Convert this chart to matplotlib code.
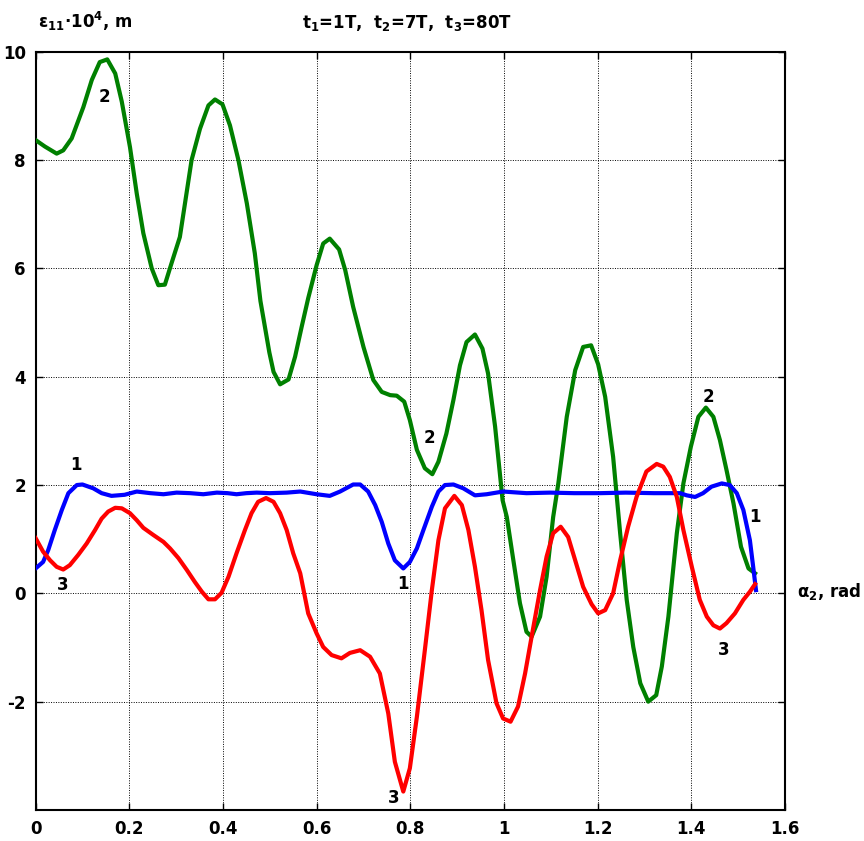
import matplotlib
matplotlib.use("Agg")
import matplotlib.pyplot as plt

plt.rcParams['font.family'] = ['DejaVu Sans']
plt.rcParams['font.weight'] = 'bold'
plt.rcParams['mathtext.fontset'] = 'custom'
plt.rcParams['mathtext.rm'] = 'DejaVu Sans:bold'
plt.rcParams['mathtext.it'] = 'DejaVu Sans:bold'
plt.rcParams['mathtext.bf'] = 'DejaVu Sans:bold'

# Curve 1 (blue)
x1 = [0.000, 0.016, 0.027, 0.041, 0.056, 0.070, 0.088, 0.100, 0.123, 0.141, 0.162,
      0.190, 0.216, 0.245, 0.273, 0.301, 0.330, 0.358, 0.387, 0.410, 0.429, 0.450,
      0.472, 0.500, 0.536, 0.565, 0.600, 0.628, 0.650, 0.678, 0.693, 0.710, 0.725,
      0.739, 0.753, 0.767, 0.785, 0.799, 0.814, 0.828, 0.846, 0.860, 0.874, 0.892,
      0.913, 0.938, 0.963, 0.998, 1.048, 1.098, 1.150, 1.205, 1.260, 1.320, 1.376,
      1.390, 1.408, 1.425, 1.443, 1.465, 1.482, 1.497, 1.511, 1.525, 1.532, 1.538]
y1 = [0.46, 0.58, 0.80, 1.17, 1.54, 1.85, 2.00, 2.01, 1.94, 1.85, 1.80,
      1.82, 1.88, 1.85, 1.83, 1.86, 1.85, 1.83, 1.86, 1.85, 1.83, 1.85,
      1.86, 1.85, 1.86, 1.88, 1.83, 1.80, 1.88, 2.01, 2.01, 1.88, 1.63,
      1.32, 0.92, 0.61, 0.46, 0.58, 0.83, 1.17, 1.60, 1.88, 2.00, 2.01,
      1.94, 1.81, 1.83, 1.88, 1.85, 1.86, 1.85, 1.85, 1.86, 1.85, 1.85,
      1.81, 1.78, 1.85, 1.97, 2.03, 2.00, 1.85, 1.54, 0.98, 0.49, 0.06]

# Curve 2 (green)
x2 = [0.000, 0.020, 0.045, 0.059, 0.077, 0.102, 0.120, 0.137, 0.153, 0.170, 0.184,
      0.2015, 0.216, 0.230, 0.248, 0.262, 0.276, 0.290, 0.308, 0.333, 0.351, 0.369,
      0.383, 0.399, 0.415, 0.433, 0.451, 0.468, 0.480, 0.490, 0.499, 0.508, 0.522,
      0.540, 0.554, 0.568, 0.582, 0.600, 0.614, 0.628, 0.648, 0.661, 0.678, 0.700,
      0.721, 0.739, 0.757, 0.771, 0.787, 0.799, 0.814, 0.831, 0.847, 0.860, 0.877,
      0.892, 0.906, 0.920, 0.938, 0.954, 0.966, 0.981, 0.997, 1.006, 1.020, 1.034,
      1.048, 1.059, 1.077, 1.091, 1.105, 1.116, 1.134, 1.152, 1.169, 1.186, 1.201,
      1.216, 1.233, 1.248, 1.262, 1.276, 1.291, 1.308, 1.325, 1.337, 1.351, 1.369,
      1.383, 1.399, 1.415, 1.431, 1.447, 1.461, 1.475, 1.490, 1.506, 1.522, 1.536]
y2 = [8.37, 8.25, 8.12, 8.18, 8.40, 8.98, 9.48, 9.81, 9.86, 9.60, 9.08,
      8.24, 7.38, 6.65, 6.00, 5.69, 5.70, 6.09, 6.58, 8.00, 8.58, 9.01,
      9.12, 9.03, 8.64, 8.00, 7.20, 6.28, 5.40, 4.90, 4.45, 4.09, 3.86,
      3.95, 4.37, 4.92, 5.45, 6.06, 6.46, 6.55, 6.35, 5.97, 5.29, 4.55,
      3.94, 3.72, 3.66, 3.65, 3.54, 3.20, 2.65, 2.31, 2.20, 2.43, 2.95,
      3.57, 4.21, 4.64, 4.78, 4.52, 4.06, 3.08, 1.72, 1.41, 0.61, -0.18,
      -0.71, -0.80, -0.43, 0.31, 1.41, 2.03, 3.26, 4.12, 4.55, 4.58, 4.23,
      3.63, 2.52, 1.11, -0.12, -0.99, -1.66, -2.00, -1.88, -1.35, -0.43, 1.11,
      2.03, 2.71, 3.26, 3.43, 3.26, 2.83, 2.28, 1.66, 0.86, 0.46, 0.37]

# Curve 3 (red)
x3 = [0.000, 0.016, 0.031, 0.045, 0.059, 0.073, 0.091, 0.109, 0.127, 0.141, 0.155,
      0.170, 0.184, 0.2015, 0.216, 0.230, 0.251, 0.273, 0.287, 0.305, 0.323, 0.340,
      0.355, 0.369, 0.383, 0.397, 0.412, 0.429, 0.447, 0.461, 0.475, 0.492, 0.508,
      0.522, 0.536, 0.550, 0.565, 0.582, 0.600, 0.614, 0.632, 0.653, 0.671, 0.693,
      0.714, 0.735, 0.753, 0.767, 0.785, 0.799, 0.814, 0.831, 0.846, 0.860, 0.874,
      0.894, 0.910, 0.924, 0.938, 0.952, 0.966, 0.984, 0.998, 1.014, 1.030, 1.045,
      1.059, 1.077, 1.091, 1.105, 1.121, 1.137, 1.152, 1.169, 1.187, 1.201, 1.216,
      1.233, 1.248, 1.265, 1.283, 1.304, 1.326, 1.340, 1.354, 1.369, 1.383, 1.401,
      1.418, 1.433, 1.447, 1.461, 1.475, 1.493, 1.511, 1.525, 1.536]
y3 = [1.02, 0.77, 0.61, 0.49, 0.44, 0.52, 0.71, 0.92, 1.17, 1.38, 1.51,
      1.58, 1.57, 1.48, 1.35, 1.21, 1.08, 0.95, 0.83, 0.65, 0.43, 0.21,
      0.03, -0.11, -0.11, 0.01, 0.31, 0.74, 1.17, 1.48, 1.69, 1.76, 1.69,
      1.48, 1.17, 0.74, 0.37, -0.37, -0.74, -0.99, -1.14, -1.20, -1.10, -1.05,
      -1.17, -1.48, -2.22, -3.11, -3.66, -3.23, -2.28, -1.05, 0.06, 0.98, 1.57,
      1.80, 1.63, 1.17, 0.49, -0.31, -1.23, -2.03, -2.31, -2.37, -2.09, -1.48,
      -0.80, 0.06, 0.68, 1.11, 1.23, 1.04, 0.61, 0.12, -0.20, -0.37, -0.31,
      0.00, 0.61, 1.23, 1.78, 2.25, 2.39, 2.34, 2.15, 1.78, 1.17, 0.49,
      -0.12, -0.43, -0.59, -0.65, -0.55, -0.37, -0.12, 0.03, 0.17]

xticks = [0, 0.2, 0.4, 0.6, 0.8, 1.0, 1.2, 1.4, 1.6]
xticklabels = ['0', '0.2', '0.4', '0.6', '0.8', '1', '1.2', '1.4', '1.6']
yticks = [-2, 0, 2, 4, 6, 8, 10]
yticklabels = ['-2', '0', '2', '4', '6', '8', '10']

# curve labels: (text, x, y)
labels1 = [('1', 0.086, 2.37), ('1', 0.784, 0.18), ('1', 1.536, 1.41)]
labels2 = [('2', 0.146, 9.17), ('2', 0.841, 2.86), ('2', 1.436, 3.63)]
labels3 = [('3', 0.058, 0.15), ('3', 0.764, -3.78), ('3', 1.470, -1.05)]

fig = plt.figure(figsize=(8.64, 8.41), dpi=100)
ax = fig.add_axes([0.0412, 0.0369, 0.8674, 0.9015])

lw = 3.0
ax.plot(x2, y2, color=(0, 0.5, 0), lw=lw, zorder=3)
ax.plot(x1, y1, color=(0, 0, 1), lw=lw, zorder=4)
ax.plot(x3, y3, color=(1, 0, 0), lw=lw, zorder=5)

for lab in (labels1, labels2, labels3):
    for t, xx, yy in lab:
        ax.text(xx, yy, t, fontsize=12, fontweight='bold', ha='center', va='center', zorder=6)

ax.set_xlim(0, 1.6)
ax.set_ylim(-4, 10)
ax.set_xticks(xticks)
ax.set_xticklabels(xticklabels)
ax.set_yticks(yticks)
ax.set_yticklabels(yticklabels)
ax.grid(True, color='black', linestyle=(0, (1, 1.5)), linewidth=0.7)
ax.tick_params(direction='in', length=5, width=1, top=True, right=True,
               labelsize=12, pad=7)
for lbl in ax.get_xticklabels() + ax.get_yticklabels():
    lbl.set_fontweight('bold')
for s in ax.spines.values():
    s.set_linewidth(1.5)
    s.set_color('black')

fig.text(38 / 864, 1 - 28 / 841, 'ε$_{11}$·10$^4$, m', fontsize=12, fontweight='bold',
         ha='left', va='baseline')
fig.text(407 / 864, 1 - 28 / 841, 't$_1$=1T,  t$_2$=7T,  t$_3$=80T', fontsize=12,
         fontweight='bold', ha='center', va='baseline')
fig.text(797 / 864, 1 - 597 / 841, 'α$_2$, rad', fontsize=12, fontweight='bold',
         ha='left', va='baseline')

fig.savefig('out.png', dpi=100)
